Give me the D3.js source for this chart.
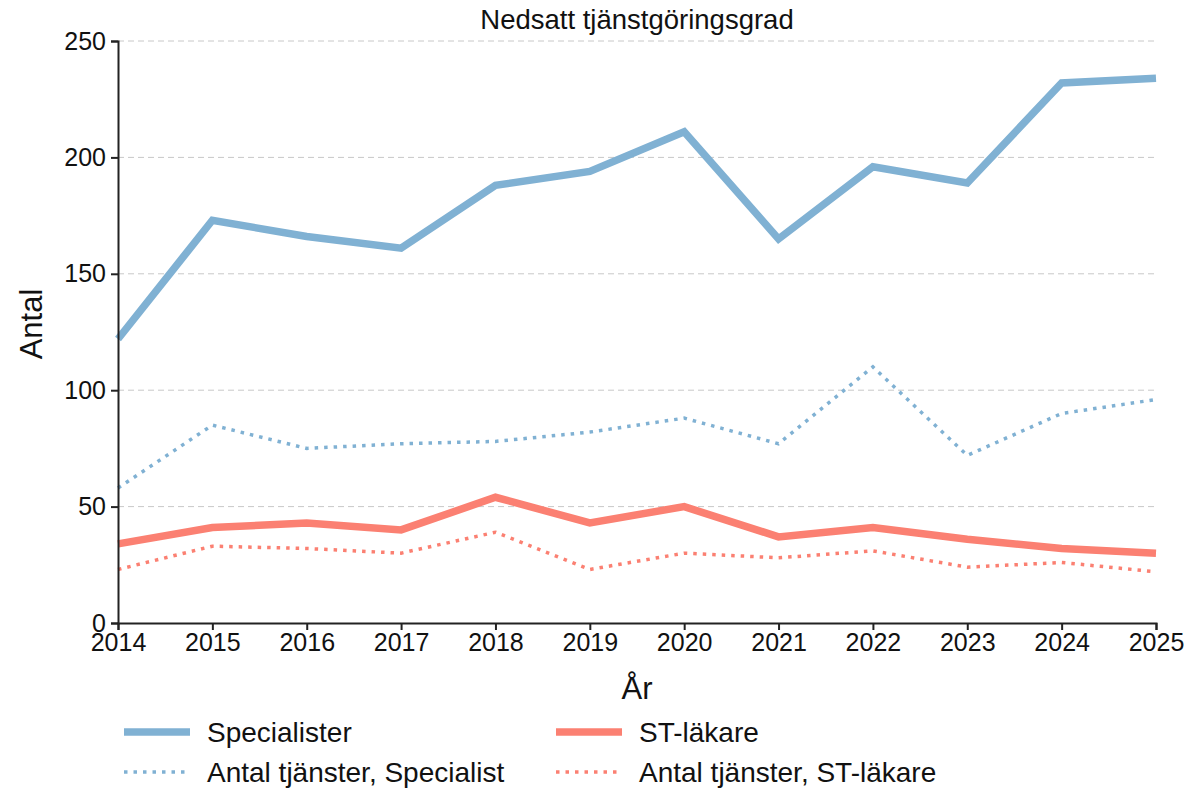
<!DOCTYPE html>
<html>
<head>
<meta charset="utf-8">
<script src="https://d3js.org/d3.v7.min.js"></script>
<style>
  body { margin: 0; background: #fff; }
  svg { font-family: "Liberation Sans", Arial, sans-serif; }
  .grid line { stroke: #c8c8c8; stroke-dasharray: 6,4; }
  .axis path, .axis line { stroke: #222; stroke-width: 2; }
  .axis text { font-size: 25px; fill: #111; }
</style>
</head>
<body>
<div id="chart"></div>
<script>
// Data
var years = [2014, 2015, 2016, 2017, 2018, 2019, 2020, 2021, 2022, 2023, 2024, 2025];
var specialister = [122, 173, 166, 161, 188, 194, 211, 165, 196, 189, 232, 234];
var tjansterSpecialist = [58, 85, 75, 77, 78, 82, 88, 77, 110, 72, 90, 96];
var stLakare = [34, 41, 43, 40, 54, 43, 50, 37, 41, 36, 32, 30];
var tjansterSt = [23, 33, 32, 30, 39, 23, 30, 28, 31, 24, 26, 22];
var yTicks = [0, 50, 100, 150, 200, 250];

var series = [
  { name: "Specialister", values: specialister, color: "#80b1d3", dotted: false },
  { name: "ST-läkare", values: stLakare, color: "#fb8072", dotted: false },
  { name: "Antal tjänster, Specialist", values: tjansterSpecialist, color: "#80b1d3", dotted: true },
  { name: "Antal tjänster, ST-läkare", values: tjansterSt, color: "#fb8072", dotted: true }
];

var svgWidth = 1190;
var svgHeight = 788;
var margin = { top: 41, right: 34, bottom: 165, left: 118 };
var width = svgWidth - margin.left - margin.right;
var height = svgHeight - margin.top - margin.bottom;

var svg = d3.select("#chart")
  .append("svg")
  .attr("width", svgWidth)
  .attr("height", svgHeight);

var chartGroup = svg.append("g")
  .attr("transform", `translate(${margin.left}, ${margin.top})`);

var xScale = d3.scaleLinear()
  .domain([2014, 2025])
  .range([0, width]);

var yScale = d3.scaleLinear()
  .domain([0, 250])
  .range([height, 0]);

// Gridlines
chartGroup.append("g")
  .attr("class", "grid")
  .selectAll("line")
  .data(yTicks.filter(d => d > 0))
  .enter()
  .append("line")
  .attr("x1", 0)
  .attr("x2", width)
  .attr("y1", d => yScale(d))
  .attr("y2", d => yScale(d));

// Lines
var line = d3.line()
  .x((d, i) => xScale(years[i]))
  .y(d => yScale(d));

chartGroup.selectAll(".series")
  .data(series)
  .enter()
  .append("path")
  .attr("class", "series")
  .attr("d", d => line(d.values))
  .attr("fill", "none")
  .attr("stroke", d => d.color)
  .attr("stroke-width", d => d.dotted ? 3.5 : 7.5)
  .attr("stroke-dasharray", d => d.dotted ? "3.5,6" : null)
  .attr("stroke-linejoin", "miter");

// Axes
var bottomAxis = d3.axisBottom(xScale)
  .tickValues(years)
  .tickFormat(d3.format("d"))
  .tickSizeOuter(0)
  .tickSize(7)
  .tickPadding(3);

var leftAxis = d3.axisLeft(yScale)
  .tickValues(yTicks)
  .tickSizeOuter(0)
  .tickSize(7)
  .tickPadding(5);

chartGroup.append("g")
  .attr("class", "axis")
  .attr("transform", `translate(0, ${height})`)
  .call(bottomAxis);

chartGroup.append("g")
  .attr("class", "axis")
  .call(leftAxis);

// Title and labels
svg.append("text")
  .attr("x", margin.left + width / 2)
  .attr("y", 29)
  .attr("text-anchor", "middle")
  .attr("font-size", "27.5px")
  .attr("fill", "#111")
  .text("Nedsatt tjänstgöringsgrad");

svg.append("text")
  .attr("transform", `translate(42, ${margin.top + height / 2 - 8}) rotate(-90)`)
  .attr("text-anchor", "middle")
  .attr("font-size", "31px")
  .attr("fill", "#111")
  .text("Antal");

svg.append("text")
  .attr("x", margin.left + width / 2)
  .attr("y", 699)
  .attr("text-anchor", "middle")
  .attr("font-size", "31px")
  .attr("fill", "#111")
  .text("År");

// Legend
var legendPos = [
  { x: 124, y: 732 },
  { x: 556, y: 732 },
  { x: 124, y: 772 },
  { x: 556, y: 772 }
];

var legend = svg.selectAll(".legend")
  .data(series)
  .enter()
  .append("g")
  .attr("class", "legend")
  .attr("transform", (d, i) => `translate(${legendPos[i].x}, ${legendPos[i].y})`);

legend.append("line")
  .attr("x1", 0)
  .attr("x2", 66)
  .attr("y1", 0)
  .attr("y2", 0)
  .attr("stroke", d => d.color)
  .attr("stroke-width", d => d.dotted ? 3.5 : 7.5)
  .attr("stroke-dasharray", d => d.dotted ? "3.5,6" : null);

legend.append("text")
  .attr("x", 83)
  .attr("y", 0)
  .attr("dy", "0.35em")
  .attr("font-size", "28px")
  .attr("fill", "#111")
  .text(d => d.name);
</script>
</body>
</html>
